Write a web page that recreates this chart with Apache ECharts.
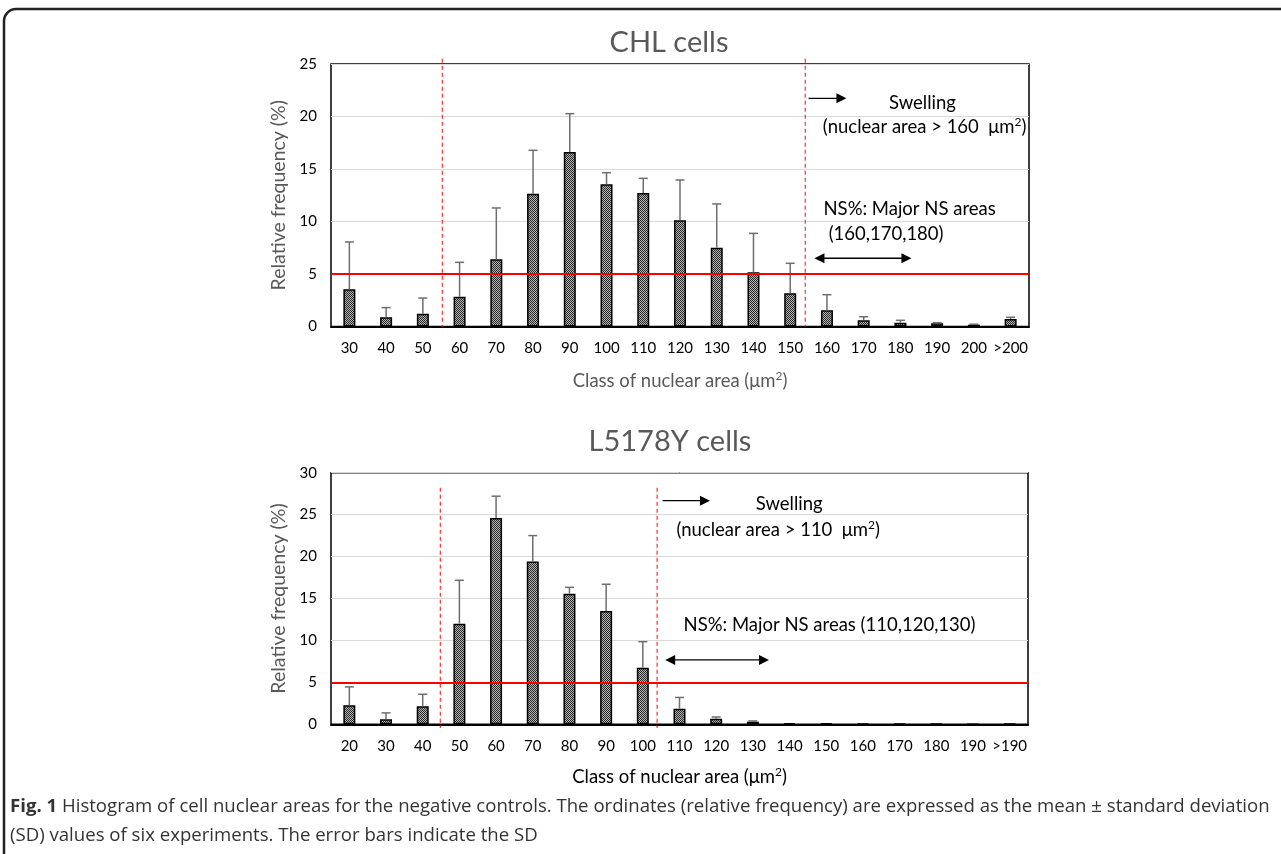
<!DOCTYPE html>
<html>
<head>
<meta charset="utf-8">
<script src="https://cdn.jsdelivr.net/npm/echarts@6/dist/echarts.min.js"></script>
<style>
html,body{margin:0;padding:0;background:#fff;}
#chart{width:1281px;height:854px;}
</style>
</head>
<body>
<div id="chart"></div>
<script>
// ---------------- data ----------------
const chlCategories = ['30','40','50','60','70','80','90','100','110','120','130','140','150','160','170','180','190','200','>200'];
const chlMeans = [3.54,0.88,1.22,2.84,6.40,12.65,16.62,13.54,12.71,10.11,7.50,5.16,3.16,1.54,0.59,0.36,0.30,0.17,0.71];
const chlSD    = [4.51,0.92,1.49,3.27,4.89,4.13,3.65,1.11,1.40,3.84,4.17,3.71,2.86,1.49,0.34,0.23,0.06,0.05,0.17];

const l5Categories = ['20','30','40','50','60','70','80','90','100','110','120','130','140','150','160','170','180','190','>190'];
const l5Means = [2.27,0.60,2.15,12.00,24.60,19.40,15.58,13.50,6.75,1.86,0.67,0.31,0.15,0.12,0.10,0.10,0.05,0.00,0.05];
const l5SD    = [2.19,0.76,1.43,5.17,2.60,3.10,0.75,3.20,3.10,1.34,0.20,0.09,0.05,0.03,0.02,0.02,0.02,0.00,0.02];

const chlYTicks = [0,5,10,15,20,25];
const l5YTicks  = [0,5,10,15,20,25,30];
const thresholdPct = [5, 5];           // red horizontal reference lines
const chlDividers = [2.53, 12.41];     // dashed lines (category position)
const l5Dividers  = [2.48, 8.39];

// ---------------- helpers ----------------
const FONT = 'Lato, "Open Sans", "Noto Sans", sans-serif';
const CAPFONT = '"Open Sans", "Noto Sans", sans-serif';

function makePattern(){
  const c = document.createElement('canvas');
  c.width = 2; c.height = 2;
  const g = c.getContext('2d');
  g.fillStyle = '#b4b4b4'; g.fillRect(0,0,2,2);
  g.fillStyle = '#2a2a2a'; g.fillRect(0,0,1,1); g.fillRect(1,1,1,1);
  return c;
}
const pattern = {image: makePattern(), repeat: 'repeat'};

function xAt(api, pos){
  const i = Math.floor(pos);
  const base = api.coord([i, 0])[0];
  const band = api.size([1, 0])[0];
  return base + (pos - i) * band;
}

function errorSeries(idx, means, sds){
  return {
    type: 'custom', xAxisIndex: idx, yAxisIndex: idx, z: 3,
    data: means.map((m, i) => [i, m, m + sds[i]]),
    renderItem: function(params, api){
      const x = api.coord([api.value(0), api.value(1)]);
      const top = api.coord([api.value(0), api.value(2)]);
      if (Math.abs(top[1] - x[1]) < 0.5) return;
      const w = 4.5;
      return {
        type: 'group',
        children: [
          {type:'line', shape:{x1:x[0], y1:x[1], x2:x[0], y2:top[1]}, style:{stroke:'#6e6e6e', lineWidth:1.5}},
          {type:'line', shape:{x1:x[0]-w, y1:top[1], x2:x[0]+w, y2:top[1]}, style:{stroke:'#6e6e6e', lineWidth:1.5}}
        ]
      };
    }
  };
}

function dividerSeries(idx, positions, y0, y1){
  return {
    type: 'custom', xAxisIndex: idx, yAxisIndex: idx, z: 4, clip: false, silent: true,
    data: positions.map(p => [p]),
    renderItem: function(params, api){
      const x = xAt(api, api.value(0));
      const a = api.coord([0, y0])[1];
      const b = api.coord([0, y1])[1];
      return {type:'line', shape:{x1:x, y1:a, x2:x, y2:b},
        style:{stroke:'#ff3030', lineWidth:1.2, lineDash:[4,3]}};
    }
  };
}

function annotationSeries(idx, notes){
  return {
    type: 'custom', xAxisIndex: idx, yAxisIndex: idx, z: 5, clip: false, silent: true,
    data: [[0]],
    renderItem: function(params, api){
      const children = [];
      notes.forEach(n => {
        if (n.kind === 'text') {
          children.push({type:'text', style:{
            x: xAt(api, n.pos), y: api.coord([0, n.val])[1],
            text: n.text, rich: {sup:{fontSize:12, fontFamily:FONT, fill:'#000', padding:[0,0,9,0]}},
            fill:'#000', fontSize: 18.5, fontFamily: FONT,
            align:'center', verticalAlign:'middle'
          }});
        } else {
          const x1 = xAt(api, n.pos[0]), x2 = xAt(api, n.pos[1]);
          const y = api.coord([0, n.val])[1];
          const h = 10, hw = 5;
          children.push({type:'line', shape:{x1: n.both ? x1 + 4 : x1, y1:y, x2:x2 - 4, y2:y}, style:{stroke:'#000', lineWidth:1.3}});
          children.push({type:'polygon', shape:{points:[[x2,y],[x2-h,y-hw],[x2-h,y+hw]]}, style:{fill:'#000'}});
          if (n.both) children.push({type:'polygon', shape:{points:[[x1,y],[x1+h,y-hw],[x1+h,y+hw]]}, style:{fill:'#000'}});
        }
      });
      return {type:'group', children: children};
    }
  };
}

const chlNotes = [
  {kind:'arrow', pos:[12.5, 13.53], val:21.73},
  {kind:'text', pos:15.6, val:21.3, text:'Swelling'},
  {kind:'text', pos:15.66, val:19.0, text:'(nuclear area > 160  μm{sup|2})'},
  {kind:'text', pos:15.25, val:11.19, text:'NS%: Major NS areas'},
  {kind:'text', pos:14.61, val:8.81, text:'(160,170,180)'},
  {kind:'arrow', pos:[12.66, 15.3], val:6.5, both:true}
];
const l5Notes = [
  {kind:'arrow', pos:[8.54, 9.83], val:26.66},
  {kind:'text', pos:11.99, val:26.27, text:'Swelling'},
  {kind:'text', pos:11.69, val:23.17, text:'(nuclear area > 110  μm{sup|2})'},
  {kind:'text', pos:13.09, val:11.84, text:'NS%: Major NS areas (110,120,130)'},
  {kind:'arrow', pos:[8.61, 11.44], val:7.67, both:true}
];

function barSeries(idx, means, thr){
  return {
    type:'bar', xAxisIndex: idx, yAxisIndex: idx, z: 2,
    data: means, barWidth: 12,
    itemStyle: {color: pattern, borderColor:'#000', borderWidth:1.5},
    markLine: {
      silent: true, symbol: 'none', animation: false,
      label: {show:false},
      lineStyle: {color:'#ff0000', width:2, type:'solid'},
      data: [{yAxis: thr}]
    }
  };
}

function xAxisCfg(idx, cats, nameColor, nameGap){
  return {
    type:'category', gridIndex: idx, data: cats,
    axisTick:{show:false},
    axisLine:{show:true, lineStyle:{color:'#000', width:2}},
    axisLabel:{color:'#000', fontSize:15, fontFamily:FONT, margin:14, interval:0},
    name:'Class of nuclear area (μm{sup|2})',
    nameLocation:'middle', nameGap: nameGap,
    nameTextStyle:{color:nameColor, fontSize:18.5, fontFamily:FONT,
      rich:{sup:{fontSize:12, fontFamily:FONT, color:nameColor, padding:[0,0,9,0]}}},
    splitLine:{show:false}
  };
}
function yAxisCfg(idx, ticks){
  return {
    type:'value', gridIndex: idx, min: ticks[0], max: ticks[ticks.length-1], interval: ticks[1]-ticks[0],
    axisLine:{show:false}, axisTick:{show:false},
    axisLabel:{color:'#000', fontSize:15, fontFamily:FONT, margin:14},
    splitLine:{show:true, lineStyle:{color:'#d9d9d9', width:1}},
    name:'Relative frequency (%)', nameLocation:'middle', nameGap: 38,
    nameTextStyle:{color:'#595959', fontSize:19.5, fontFamily:FONT}
  };
}

const chart = echarts.init(document.getElementById('chart'), null, {renderer:'canvas'});
chart.setOption({
  animation: false,
  backgroundColor: '#fff',
  title: [
    {text:'CHL cells', left: 664, top: 38, textAlign:'center', textVerticalAlign:'middle',
      textStyle:{fontSize:29, fontWeight:'normal', color:'#595959', fontFamily:FONT}},
    {text:'L5178Y cells', left: 665, top: 437, textAlign:'center', textVerticalAlign:'middle',
      textStyle:{fontSize:29, fontWeight:'normal', color:'#595959', fontFamily:FONT}}
  ],
  grid: [
    {left:331, top:64, width:698, height:262.5, show:true, borderColor:'#000', borderWidth:1.5, containLabel:false},
    {left:331, top:472.7, width:697, height:251.6, show:true, borderColor:'#000', borderWidth:1.5, containLabel:false}
  ],
  xAxis: [xAxisCfg(0, chlCategories, '#595959', 44), xAxisCfg(1, l5Categories, '#000', 42)],
  yAxis: [yAxisCfg(0, chlYTicks), yAxisCfg(1, l5YTicks)],
  series: [
    barSeries(0, chlMeans, thresholdPct[0]),
    errorSeries(0, chlMeans, chlSD),
    dividerSeries(0, chlDividers, 25.5, 0),
    annotationSeries(0, chlNotes),
    barSeries(1, l5Means, thresholdPct[1]),
    errorSeries(1, l5Means, l5SD),
    dividerSeries(1, l5Dividers, 28.2, -0.45),
    annotationSeries(1, l5Notes)
  ],
  graphic: [
    {type:'rect', silent:true, z:-10, shape:{x:4, y:9, width:1400, height:1000, r:12},
      style:{fill:'none', stroke:'#222', lineWidth:2.5}},
    {type:'text', left:10, top:797, silent:true, style:{
      text:'{b|Fig. 1} Histogram of cell nuclear areas for the negative controls. The ordinates (relative frequency) are expressed as the mean ± standard deviation',
      fontSize:18.6, fontFamily:CAPFONT, fill:'#333',
      rich:{b:{fontSize:18.6, fontFamily:CAPFONT, fontWeight:'bold', fill:'#333'}}
    }},
    {type:'text', left:10, top:826, silent:true, style:{
      text:'(SD) values of six experiments. The error bars indicate the SD',
      fontSize:18.6, fontFamily:CAPFONT, fill:'#333'
    }}
  ]
});
</script>
</body>
</html>
